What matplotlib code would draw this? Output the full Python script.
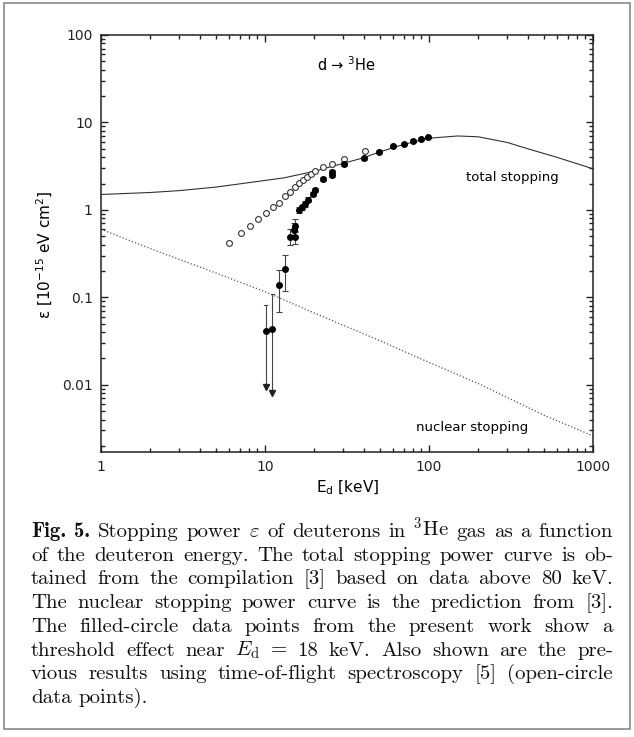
import numpy as np
import matplotlib
matplotlib.use('Agg')
import matplotlib.pyplot as plt
from matplotlib.patches import Rectangle
from matplotlib.ticker import FixedLocator, LogLocator, NullFormatter, FixedFormatter

# total stopping curve
tot_E = [1, 2, 3, 5, 8, 13, 20, 25, 30, 40, 50, 70, 100, 150, 200, 300, 400, 600, 1000]
tot_eps = [1.5, 1.58, 1.66, 1.82, 2.05, 2.32, 2.76, 3.1, 3.4, 3.95, 4.6, 5.6, 6.6, 7.0, 6.85, 5.9, 5.0, 4.0, 2.95]

# nuclear stopping curve
nuc_E = [1, 2, 5, 10, 20, 50, 100, 200, 500, 1000]
nuc_eps = [0.6, 0.36, 0.19, 0.116, 0.066, 0.032, 0.018, 0.0103, 0.0045, 0.0026]

# present work, filled circles
fill_E = [12.2, 13.2, 14.2, 15.2, 15.0, 15.3, 16.2, 16.7, 17.5, 18.4, 19.5, 20.2, 22.7,
          25.5, 25.5, 30.3, 40.3, 49.8, 60, 70.4, 80, 89, 99]
fill_eps = [0.138, 0.21, 0.49, 0.49, 0.59, 0.66, 1.0, 1.07, 1.17, 1.3, 1.52, 1.69, 2.24,
            2.51, 2.74, 3.33, 3.9, 4.63, 5.38, 5.68, 6.15, 6.47, 6.78]
fill_lo = [0.068, 0.117, 0.40, 0.41, 0.50, 0.56, 0.93, 1.0, 1.09, 1.22, 1.43, 1.6, 2.14,
           2.4, 2.62, 3.2, 3.75, 4.5, 5.25, 5.55, 6.0, 6.35, 6.65]
fill_hi = [0.206, 0.306, 0.60, 0.58, 0.70, 0.78, 1.08, 1.15, 1.25, 1.4, 1.62, 1.8, 2.35,
           2.62, 2.86, 3.5, 4.05, 4.8, 5.5, 5.8, 6.3, 6.6, 6.9]

# lowest points: upper error bar and arrow down
lim_E = [10.1, 11.1]
lim_eps = [0.041, 0.0436]
lim_hi = [0.082, 0.11]
lim_lo = [0.0095, 0.0081]

# time-of-flight data [5], open circles
open_E = [6.06, 7.1, 8.1, 9.1, 10.1, 11.2, 12.2, 13.2, 14.2, 15.2, 16.2, 17.1, 18.1, 19.0,
          20.2, 22.7, 25.5, 30.3, 40.7]
open_eps = [0.416, 0.54, 0.66, 0.79, 0.93, 1.07, 1.21, 1.44, 1.58, 1.85, 2.05, 2.2, 2.4, 2.58,
            2.81, 3.12, 3.36, 3.79, 4.72]

xticks = [1, 10, 100, 1000]
xlabels = ['1', '10', '100', '1000']
yticks = [0.01, 0.1, 1, 10, 100]
ylabels = ['0.01', '0.1', '1', '10', '100']

caption = [
    r'Fig. 5. Stopping power $\varepsilon$ of deuterons in $^{3}$He gas as a function',
    'of the deuteron energy. The total stopping power curve is ob-',
    'tained from the compilation [3] based on data above 80 keV.',
    'The nuclear stopping power curve is the prediction from [3].',
    'The filled-circle data points from the present work show a',
    r'threshold effect near $E_{\mathrm{d}}$ = 18 keV. Also shown are the pre-',
    'vious results using time-of-flight spectroscopy [5] (open-circle',
    'data points).',
]

W, H = 634, 737
fig = plt.figure(figsize=(W/100., H/100.), dpi=100)
ax = fig.add_axes([101./W, 1-452./H, 492./W, 417./H])

pfont = 'DejaVu Sans'
fs = 10

ax.plot(tot_E, tot_eps, '-', color='#333333', lw=0.8)
ax.plot(nuc_E, nuc_eps, ':', color='#555555', lw=0.9)

# open circles
ax.plot(open_E, open_eps, 'o', ms=4.2, mfc='white', mec='#333333', mew=0.8, ls='none')

# filled circles with error bars
fill_eps = np.array(fill_eps)
yerr = [fill_eps-np.array(fill_lo), np.array(fill_hi)-fill_eps]
ax.errorbar(fill_E, fill_eps, yerr=yerr, fmt='o', ms=4, color='black', ecolor='#444444',
            elinewidth=0.8, capsize=2.5, capthick=0.8)

# upper limits with arrows
for ii in range(len(lim_E)):
    ax.plot([lim_E[ii], lim_E[ii]], [lim_lo[ii], lim_hi[ii]], '-', color='#444444', lw=0.8)
    ax.plot([lim_E[ii]*0.975, lim_E[ii]*1.025], [lim_hi[ii], lim_hi[ii]], '-', color='#444444', lw=0.8)
    ax.plot(lim_E[ii], lim_lo[ii], 'v', ms=4, color='#222222')
ax.plot(lim_E, lim_eps, 'o', ms=4, color='black', ls='none')

ax.set_xscale('log')
ax.set_yscale('log')
ax.set_xlim(1, 1000)
ax.set_ylim(0.0017, 100)

ax.xaxis.set_major_locator(FixedLocator(xticks))
ax.xaxis.set_major_formatter(FixedFormatter(xlabels))
ax.yaxis.set_major_locator(FixedLocator(yticks))
ax.yaxis.set_major_formatter(FixedFormatter(ylabels))
ax.xaxis.set_minor_locator(LogLocator(base=10, subs=np.arange(2, 10)))
ax.yaxis.set_minor_locator(LogLocator(base=10, subs=np.arange(2, 10)))
ax.xaxis.set_minor_formatter(NullFormatter())
ax.yaxis.set_minor_formatter(NullFormatter())
ax.tick_params(which='both', direction='in', top=True, right=True, width=1.0, colors='#222222')
ax.tick_params(which='major', length=5, pad=6, labelsize=fs)
ax.tick_params(which='minor', length=3)
for lab in ax.get_xticklabels() + ax.get_yticklabels():
    lab.set_family(pfont)
for sp in ax.spines.values():
    sp.set_linewidth(1.1)
    sp.set_color('#222222')

fig.text(348./W, 1-488./H, r'E$_\mathregular{d}$ [keV]', ha='center', va='center',
         family=pfont, fontsize=11)
fig.text(45./W, 1-255./H, r'ε [10$^{-15}$ eV cm$^2$]', ha='center', va='center',
         rotation=90, family=pfont, fontsize=11)
fig.text(347./W, 1-65./H, r'd → $^3$He', ha='center', va='center', family=pfont, fontsize=10.5)
fig.text(512./W, 1-178./H, 'total stopping', ha='center', va='center', family=pfont, fontsize=9.5)
fig.text(472./W, 1-428./H, 'nuclear stopping', ha='center', va='center', family=pfont, fontsize=9.5)

# frame round the whole figure
fig.add_artist(Rectangle((4./W, 1-729./H), 626./W, 726./H, transform=fig.transFigure,
                         fill=False, ec='#888888', lw=1.2))

# caption, justified word by word
renderer = fig.canvas.get_renderer()
x_left, x_right = 31., 613.
cfs = 15
for ii, line in enumerate(caption):
    y = 1 - (537. + 23.7*ii)/H
    words = line.split(' ')
    objs = []
    for jj, w in enumerate(words):
        fam = 'cmb10' if (ii == 0 and jj < 2) else 'cmr10'
        t = fig.text(0, y, w, family=fam, fontsize=cfs, math_fontfamily='cm',
                     ha='left', va='baseline', color='#111111')
        objs.append(t)
    widths = [t.get_window_extent(renderer).width for t in objs]
    if ii < len(caption)-1:
        gap = (x_right - x_left - sum(widths))/(len(words)-1)
    else:
        gap = 6.5
    x = x_left
    for t, wd in zip(objs, widths):
        t.set_x(x/W)
        x += wd + gap

fig.savefig('out.png', dpi=100)
